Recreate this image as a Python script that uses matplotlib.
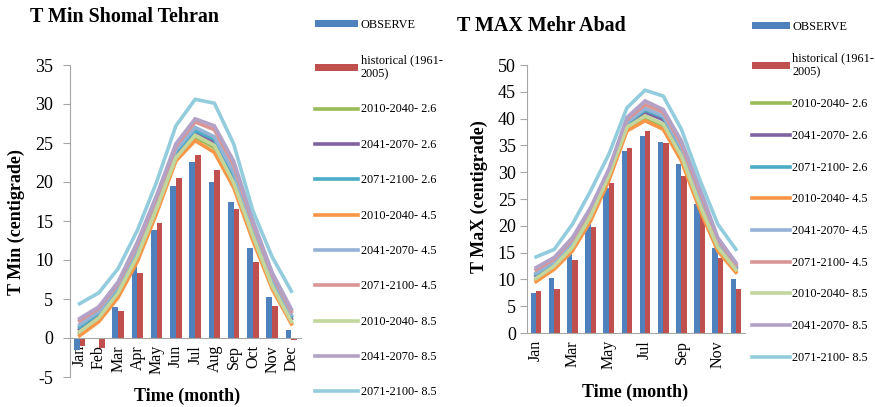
import matplotlib
matplotlib.use("Agg")
import matplotlib.pyplot as plt
import numpy as np

plt.rcParams['font.family'] = ['Liberation Serif', 'DejaVu Serif']
plt.rcParams['axes.unicode_minus'] = False

months = ['Jan', 'Feb', 'Mar', 'Apr', 'May', 'Jun', 'Jul', 'Aug', 'Sep', 'Oct', 'Nov', 'Dec']

# series order as in the legend
labels = ['2010-2040- 2.6', '2041-2070- 2.6', '2071-2100- 2.6',
          '2010-2040- 4.5', '2041-2070- 4.5', '2071-2100- 4.5',
          '2010-2040- 8.5', '2041-2070- 8.5', '2071-2100- 8.5']
colors = ['#9BBB59', '#8064A2', '#4BACC6',
          '#F79646', '#95B3D7', '#D99694',
          '#C3D69B', '#B3A2C7', '#93CDDD']

# T Min Shomal Tehran
tmin_obs = [-1.5, -0.1, 4.0, 9.3, 13.9, 19.5, 22.6, 20.0, 17.5, 11.5, 5.3, 1.0]
tmin_hist = [-1.0, -1.3, 3.4, 8.3, 14.7, 20.5, 23.5, 21.5, 16.6, 9.7, 4.1, -0.3]
tmin_26_2010 = [0.6, 2.4, 5.6, 10.3, 16.4, 23.0, 25.8, 24.4, 19.7, 12.9, 6.6, 2.0]
tmin_26_2041 = [1.1, 3.0, 6.2, 11.0, 17.0, 23.6, 26.3, 25.1, 20.5, 13.6, 7.1, 2.5]
tmin_26_2071 = [1.4, 3.2, 6.5, 11.4, 17.4, 23.9, 26.6, 25.5, 20.9, 14.0, 7.5, 2.8]
tmin_45_2010 = [0.3, 2.1, 5.2, 9.8, 16.0, 22.7, 25.3, 23.8, 19.3, 12.5, 6.3, 1.8]
tmin_45_2041 = [1.7, 3.4, 6.7, 11.6, 17.6, 24.1, 27.0, 25.8, 21.3, 14.3, 7.8, 3.0]
tmin_45_2071 = [2.2, 3.8, 7.0, 12.0, 18.0, 24.6, 27.7, 26.7, 22.2, 14.8, 8.2, 3.4]
tmin_85_2010 = [0.8, 2.6, 5.8, 10.5, 16.6, 23.1, 26.0, 24.7, 19.9, 13.1, 6.7, 2.1]
tmin_85_2041 = [2.5, 4.0, 7.2, 12.3, 18.3, 24.9, 28.1, 27.2, 22.7, 15.1, 8.4, 3.7]
tmin_85_2071 = [4.4, 5.8, 8.9, 13.8, 20.0, 27.2, 30.6, 30.1, 24.9, 16.3, 10.4, 6.0]

# T MAX Mehr Abad
tmax_obs = [7.5, 10.2, 15.5, 20.3, 27.0, 34.0, 36.7, 35.6, 31.5, 24.1, 15.9, 10.0]
tmax_hist = [7.8, 8.15, 13.6, 19.7, 27.9, 34.5, 37.6, 35.5, 29.3, 22.4, 14.0, 8.3]
tmax_26_2010 = [10.0, 12.3, 15.8, 21.5, 29.0, 38.2, 40.2, 38.7, 32.8, 23.7, 15.8, 11.6]
tmax_26_2041 = [10.6, 12.8, 16.5, 22.2, 29.6, 38.8, 41.2, 39.8, 33.8, 24.7, 16.5, 12.1]
tmax_26_2071 = [11.0, 13.1, 16.8, 22.5, 29.9, 39.1, 41.6, 40.3, 34.3, 25.2, 16.9, 12.4]
tmax_45_2010 = [9.6, 11.9, 15.3, 20.9, 28.4, 37.7, 39.6, 38.0, 32.1, 23.1, 15.3, 11.3]
tmax_45_2041 = [11.2, 13.3, 17.0, 22.7, 30.0, 39.3, 41.9, 40.5, 34.6, 25.6, 17.2, 12.5]
tmax_45_2071 = [11.8, 13.8, 17.5, 23.1, 30.3, 39.8, 42.6, 41.2, 35.2, 26.4, 17.5, 12.8]
tmax_85_2010 = [10.2, 12.5, 16.0, 21.8, 29.3, 38.4, 40.5, 39.0, 33.0, 24.0, 16.0, 11.8]
tmax_85_2041 = [12.2, 14.1, 17.8, 23.4, 30.5, 40.2, 43.3, 41.7, 35.8, 27.1, 17.8, 13.1]
tmax_85_2071 = [14.2, 15.6, 20.3, 26.5, 33.3, 42.0, 45.3, 44.2, 38.0, 28.7, 20.3, 15.6]

tmin_scen = [tmin_26_2010, tmin_26_2041, tmin_26_2071, tmin_45_2010, tmin_45_2041,
             tmin_45_2071, tmin_85_2010, tmin_85_2041, tmin_85_2071]
tmax_scen = [tmax_26_2010, tmax_26_2041, tmax_26_2071, tmax_45_2010, tmax_45_2041,
             tmax_45_2071, tmax_85_2010, tmax_85_2041, tmax_85_2071]

gray = '#A6A6A6'


def draw(ax, obs, hist, scen, bw):
    x = np.arange(len(months))
    handles = []
    handles.append(ax.bar(x - bw / 2, obs, bw, color='#4F81BD', label='OBSERVE', zorder=2))
    handles.append(ax.bar(x + bw / 2, hist, bw, color='#C0504D',
                          label='historical (1961-\n2005)', zorder=2))
    for vals, lab, c in zip(scen, labels, colors):
        ln, = ax.plot(x, vals, color=c, lw=2.6, label=lab, zorder=3, solid_joinstyle='miter')
        handles.append(ln)
    ax.set_xlim(-0.5, len(months) - 0.5)
    for s in ['top', 'right']:
        ax.spines[s].set_visible(False)
    for s in ['left', 'bottom']:
        ax.spines[s].set_color(gray)
    ax.spines['bottom'].set_position(('data', 0))
    ax.tick_params(axis='x', length=0, labelsize=11.5, rotation=90, pad=5)
    ax.tick_params(axis='y', direction='out', color=gray, length=5, labelsize=13)
    return handles


fig = plt.figure(figsize=(8.75, 4.07), dpi=100)

ax1 = fig.add_axes([70 / 875, 30 / 407, 231 / 875, 312 / 407])
h1 = draw(ax1, tmin_obs, tmin_hist, tmin_scen, 0.3)
ax1.set_ylim(-5, 35)
ax1.set_yticks(np.arange(-5, 36, 5))
ax1.tick_params(axis='y', pad=7)
ax1.set_xticks(np.arange(12))
ax1.set_xticklabels(months)
ax1.set_ylabel('T Min (centigrade)', fontsize=13, fontweight='bold')
ax1.yaxis.set_label_coords(-0.195, 0.497)
ax1.set_xlabel('Time (month)', fontsize=13, fontweight='bold')
ax1.xaxis.set_label_coords(0.506, -0.035)
ax1.legend(handles=h1, loc='upper left', bbox_to_anchor=(315 / 875, 1 - 19 / 407),
           bbox_transform=fig.transFigure, frameon=False, fontsize=8.8,
           borderpad=0, borderaxespad=0, handlelength=3.5, handleheight=0.5,
           handletextpad=0.25, labelspacing=1.91)

ax2 = fig.add_axes([527 / 875, 74 / 407, 218 / 875, 268 / 407])
h2 = draw(ax2, tmax_obs, tmax_hist, tmax_scen, 0.29)
ax2.set_ylim(0, 50)
ax2.set_yticks(np.arange(0, 51, 5))
ax2.tick_params(axis='y', pad=3)
ax2.set_xticks(np.arange(0, 12, 2))
ax2.set_xticklabels(months[::2])
ax2.set_ylabel('T MaX (centigrade)', fontsize=13, fontweight='bold')
ax2.yaxis.set_label_coords(-0.179, 0.507)
ax2.set_xlabel('Time (month)', fontsize=13, fontweight='bold')
ax2.xaxis.set_label_coords(0.495, -0.19)
ax2.legend(handles=h2, loc='upper left', bbox_to_anchor=(752 / 875, 1 - 21 / 407),
           bbox_transform=fig.transFigure, frameon=False, fontsize=8.8,
           borderpad=0, borderaxespad=0, handlelength=3.1, handleheight=0.5,
           handletextpad=0.2, labelspacing=1.61)

fig.text(30 / 875, 1 - 17 / 407, 'T Min Shomal Tehran', fontsize=14.4,
         fontweight='bold', va='center')
fig.text(457 / 875, 1 - 26 / 407, 'T MAX Mehr Abad', fontsize=14.4,
         fontweight='bold', va='center')

fig.savefig('out.png', dpi=100)
